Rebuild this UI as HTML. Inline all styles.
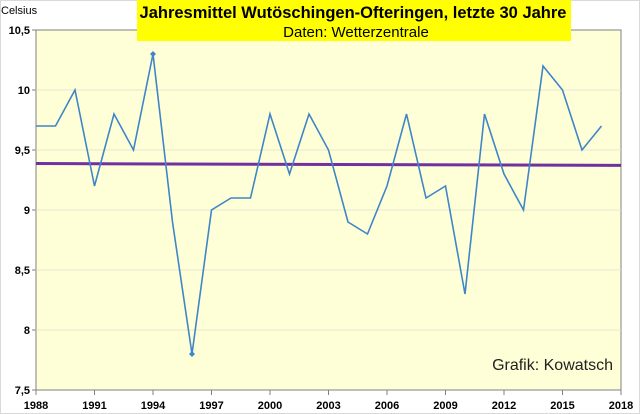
<!DOCTYPE html>
<html><head><meta charset="utf-8"><style>
body{margin:0;background:#fff;}
svg{display:block;font-family:"Liberation Sans",sans-serif;}
</style></head><body>
<svg id="chart" width="640" height="414" viewBox="0 0 640 414">
<rect x="0.5" y="0.5" width="639" height="413" fill="#fff" stroke="#d9d9d9"/>
<rect x="36" y="30" width="585" height="360" fill="#ffffd7" stroke="#808080"/>
<g id="grid"></g><g id="axes"></g><g id="series"></g>
<text x="1" y="14" font-size="11" fill="#000">Celsius</text>
<rect x="137" y="0" width="434" height="41" fill="#ffff00"/>
<text x="353" y="18" font-size="16.5" font-weight="bold" text-anchor="middle">Jahresmittel Wutöschingen-Ofteringen,  letzte 30 Jahre</text>
<text x="356" y="37" font-size="15" text-anchor="middle">Daten: Wetterzentrale</text>
<text x="613" y="370" font-size="16" text-anchor="end" fill="#222">Grafik: Kowatsch</text>
</svg>
<script>
const years=[1988,1989,1990,1991,1992,1993,1994,1995,1996,1997,1998,1999,2000,2001,2002,2003,2004,2005,2006,2007,2008,2009,2010,2011,2012,2013,2014,2015,2016,2017];
const temps=[9.7,9.7,10.0,9.2,9.8,9.5,10.3,8.9,7.8,9.0,9.1,9.1,9.8,9.3,9.8,9.5,8.9,8.8,9.2,9.8,9.1,9.2,8.3,9.8,9.3,9.0,10.2,10.0,9.5,9.7];
const trendStart=9.387, trendEnd=9.372;
const xTicks=[1988,1991,1994,1997,2000,2003,2006,2009,2012,2015,2018];
const yTicks=[7.5,8,8.5,9,9.5,10,10.5];
const yTickLabels=["7,5","8","8,5","9","9,5","10","10,5"];
const NS="http://www.w3.org/2000/svg";
const x=v=>36+(v-1988)*(585/30);
const y=v=>390-(v-7.5)*120;
function mk(t,a,p){const e=document.createElementNS(NS,t);for(const k in a)e.setAttribute(k,a[k]);p.appendChild(e);return e;}
const grid=document.getElementById('grid'),axes=document.getElementById('axes'),series=document.getElementById('series');
yTicks.forEach((v,i)=>{
 if(i>0&&i<yTicks.length-1){const g=mk('line',{x1:36,x2:621,y1:y(v),y2:y(v),stroke:'#e6e6d0','stroke-width':1},grid);
 
 }
 const t=mk('line',{x1:32,x2:36,y1:y(v),y2:y(v),stroke:'#808080'},axes);
 
 
 const l=mk('text',{x:30,y:y(v)+4,'font-size':11,'font-weight':'bold','text-anchor':'end'},axes);
 l.textContent=yTickLabels[i];
 
 
});
xTicks.forEach(v=>{
 const t=mk('line',{x1:x(v),x2:x(v),y1:390,y2:395,stroke:'#808080'},axes);
 
 
 const l=mk('text',{x:x(v),y:409,'font-size':11,'font-weight':'bold','text-anchor':'middle'},axes);
 l.textContent=v;
 
 
});
const tl=mk('line',{x1:36,x2:621,y1:y(trendStart),y2:y(trendEnd),stroke:'#7030a0','stroke-width':3},series);


const pl=mk('polyline',{points:years.map((yr,i)=>x(yr)+','+y(temps[i])).join(' '),fill:'none',stroke:'#3f86c8','stroke-width':1.6,'stroke-linejoin':'miter'},series);


const mx=temps.indexOf(Math.max(...temps)),mn=temps.indexOf(Math.min(...temps));
[mx,mn].forEach(i=>{const cx=x(years[i]),cy=y(temps[i]);
 const d=mk('polygon',{points:`${cx},${cy-3} ${cx+3},${cy} ${cx},${cy+3} ${cx-3},${cy}`,fill:'#3f86c8'},series);
 
 });
</script>
</body></html>
